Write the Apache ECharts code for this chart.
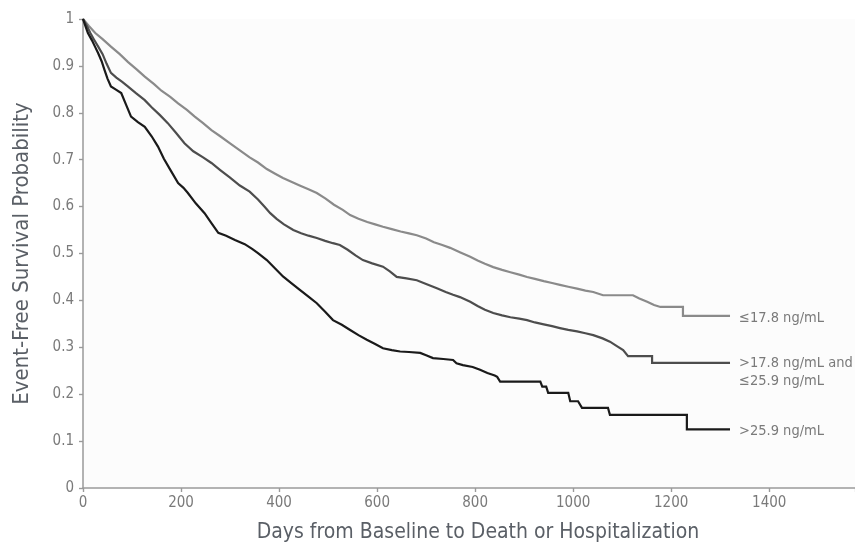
<!DOCTYPE html>
<html>
<head>
<meta charset="utf-8">
<script src="https://cdn.jsdelivr.net/npm/echarts@6/dist/echarts.min.js"></script>
<style>
html,body{margin:0;padding:0;background:#fff;}
#c{width:855px;height:549px;}
</style>
</head>
<body>
<div id="c"></div>
<script>
// ---- data ----
const xTicks = [0, 200, 400, 600, 800, 1000, 1200, 1400];
const seriesNames = ['≤17.8 ng/mL', '>17.8 ng/mL and\n≤25.9 ng/mL', '>25.9 ng/mL'];

const lowDays = [0,12,25,40,57,75,92,110,126,145,160,178,194,212,228,245,262,280,300,320,340,357,375,392,408,425,442,460,477,495,512,530,545,562,580,596,612,630,648,665,681,700,716,733,749,770,790,805,820,837,855,872,890,906,922,940,957,973,990,1008,1025,1041,1061,1122,1135,1151,1165,1178,1224,1224,1320];
const lowSurv = [1,0.985,0.97,0.957,0.941,0.925,0.908,0.892,0.877,0.861,0.847,0.834,0.82,0.806,0.792,0.778,0.763,0.75,0.735,0.72,0.705,0.694,0.68,0.67,0.661,0.653,0.645,0.637,0.629,0.617,0.604,0.593,0.582,0.574,0.567,0.562,0.557,0.552,0.547,0.543,0.539,0.532,0.524,0.518,0.512,0.502,0.493,0.485,0.478,0.471,0.465,0.46,0.455,0.45,0.446,0.441,0.437,0.433,0.429,0.425,0.421,0.418,0.411,0.411,0.404,0.397,0.39,0.386,0.386,0.367,0.367];

const midDays = [0,8,15,22,31,40,48,57,68,80,92,108,126,140,157,173,190,207,225,245,262,280,300,320,340,357,370,382,395,410,429,445,460,477,494,510,524,540,556,571,590,612,626,640,660,681,700,722,740,755,769,790,805,820,837,855,872,890,906,922,940,957,973,990,1008,1025,1041,1060,1075,1090,1102,1112,1161,1161,1320];
const midSurv = [1,0.985,0.97,0.957,0.941,0.925,0.905,0.885,0.875,0.866,0.856,0.842,0.827,0.812,0.795,0.778,0.757,0.735,0.718,0.705,0.693,0.678,0.662,0.645,0.632,0.615,0.6,0.586,0.574,0.562,0.55,0.543,0.538,0.533,0.527,0.522,0.518,0.508,0.496,0.486,0.479,0.472,0.462,0.45,0.447,0.443,0.435,0.426,0.418,0.412,0.407,0.397,0.388,0.38,0.373,0.368,0.364,0.361,0.358,0.353,0.349,0.345,0.341,0.337,0.334,0.33,0.326,0.319,0.312,0.302,0.294,0.281,0.281,0.267,0.267];

const highDays = [0,5,10,18,25,31,38,44,50,57,68,78,88,98,112,126,140,153,165,180,194,205,214,230,248,262,276,292,310,330,345,357,375,392,408,425,443,460,477,494,510,528,545,562,579,596,612,630,647,665,688,700,714,735,755,762,775,795,810,825,840,845,851,933,937,945,949,990,994,1010,1018,1071,1075,1232,1232,1320];
const highSurv = [1,0.985,0.97,0.955,0.94,0.927,0.91,0.891,0.873,0.856,0.849,0.842,0.817,0.792,0.78,0.77,0.75,0.728,0.702,0.675,0.65,0.64,0.629,0.607,0.586,0.565,0.544,0.538,0.529,0.52,0.51,0.501,0.486,0.468,0.451,0.437,0.422,0.408,0.394,0.376,0.358,0.348,0.337,0.326,0.316,0.307,0.298,0.294,0.291,0.29,0.288,0.283,0.277,0.275,0.273,0.266,0.262,0.258,0.252,0.245,0.24,0.237,0.227,0.227,0.216,0.216,0.203,0.203,0.185,0.185,0.171,0.171,0.156,0.156,0.125,0.125];

// ---- chart ----
const FONT = "'Liberation Sans Narrow', 'DejaVu Sans Condensed', 'Roboto', sans-serif";
const zip = (a, b) => a.map((d, i) => [d, b[i]]);
const colors = ['#8a8a8a', '#4d4d4d', '#1a1a1a'];
const sets = [zip(lowDays, lowSurv), zip(midDays, midSurv), zip(highDays, highSurv)];

const chart = echarts.init(document.getElementById('c'), null, {renderer: 'canvas'});

function mkSeries(i, offsetY) {
  return {
    type: 'line',
    name: seriesNames[i],
    data: sets[i],
    showSymbol: false,
    symbol: 'none',
    xAxisIndex: 0, yAxisIndex: 0,
    lineStyle: {color: colors[i], width: 2.2, join: 'miter'},
    itemStyle: {color: colors[i]},
    z: 3 + i,
    endLabel: {
      show: true,
      formatter: seriesNames[i],
      distance: 9,
      color: '#7a7a7a',
      fontSize: 14.5,
      fontFamily: FONT,
      lineHeight: 18,
      align: 'left',
      offset: [0, offsetY]
    }
  };
}

const axisCommonX = {type: 'value', min: 0, max: 1575, interval: 200};
const axisCommonY = {type: 'value', min: 0, max: 1, interval: 0.1};

chart.setOption({
  animation: false,
  backgroundColor: '#ffffff',
  grid: {left: 83, right: 0, top: 19, bottom: 61, show: true, backgroundColor: '#fcfcfc', borderWidth: 0},
  xAxis: [
    Object.assign({}, axisCommonX, {
      name: 'Days from Baseline to Death or Hospitalization',
      nameLocation: 'middle',
      nameGap: 34,
      nameTextStyle: {fontFamily: FONT, fontSize: 21, color: '#5a5f66', padding: [0, 0, 0, 18]},
      axisLine: {show: true, lineStyle: {color: '#9a9a9a', width: 1.5}},
      axisTick: {show: true, length: 4, lineStyle: {color: '#9a9a9a', width: 1.2}},
      axisLabel: {color: '#7a7a7a', fontSize: 15, fontFamily: FONT, margin: 8, showMaxLabel: false,
                  formatter: v => xTicks.indexOf(v) >= 0 ? String(v) : ''},
      splitLine: {show: false}
    }),
    Object.assign({}, axisCommonX, {
      axisLine: {show: false},
      axisTick: {show: true, inside: true, length: 4, lineStyle: {color: '#9a9a9a', width: 1.2}},
      axisLabel: {show: false},
      splitLine: {show: false}
    })
  ],
  yAxis: [
    Object.assign({}, axisCommonY, {
      name: 'Event-Free Survival Probability',
      nameLocation: 'middle',
      nameGap: 50,
      nameTextStyle: {fontFamily: FONT, fontSize: 22, color: '#5a5f66'},
      axisLine: {show: true, lineStyle: {color: '#9a9a9a', width: 1.5}},
      axisTick: {show: true, length: 4, lineStyle: {color: '#9a9a9a', width: 1.2}},
      axisLabel: {color: '#7a7a7a', fontSize: 15, fontFamily: FONT, margin: 9},
      splitLine: {show: false}
    }),
    Object.assign({}, axisCommonY, {
      axisLine: {show: false},
      axisTick: {show: true, inside: true, length: 4, lineStyle: {color: '#9a9a9a', width: 1.2}},
      axisLabel: {show: false},
      splitLine: {show: false}
    })
  ],
  series: [
    mkSeries(0, 2),
    mkSeries(1, 9),
    mkSeries(2, 2),
    {type: 'line', data: [], xAxisIndex: 1, yAxisIndex: 1}
  ]
});
</script>
</body>
</html>
